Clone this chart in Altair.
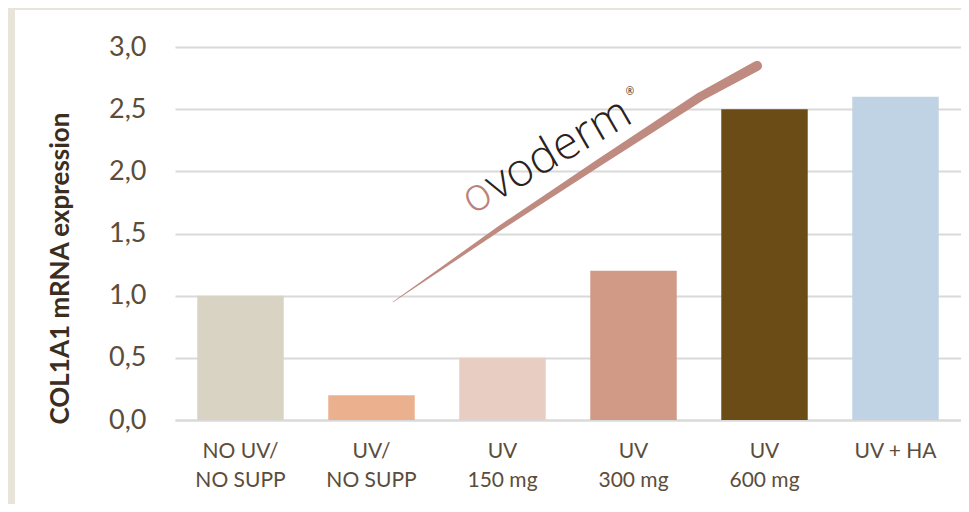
import altair as alt
import pandas as pd

categories = ["NO UV/\nNO SUPP", "UV/\nNO SUPP", "UV\n150 mg", "UV\n300 mg", "UV\n600 mg", "UV + HA"]
values = [1.0, 0.2, 0.5, 1.2, 2.5, 2.6]
bar_colors = ["#d9d3c4", "#ebb08e", "#e8cdc3", "#d19a87", "#6b4c16", "#c0d3e4"]
y_ticks = [0, 0.5, 1.0, 1.5, 2.0, 2.5, 3.0]

# decorative logo swoosh (in category-index / value units)
swoosh_x = [1.664, 2.481, 3.244, 4.008, 4.443]
swoosh_y = [0.949, 1.544, 2.075, 2.599, 2.848]
swoosh_w = [0.5, 5, 7, 9, 10]

W, H = 786, 373
LABEL = "#5b4d3c"

df = pd.DataFrame({"cat": categories, "val": values})
sw = pd.DataFrame({"sx": swoosh_x, "sy": swoosh_y, "sw": swoosh_w, "i": list(range(len(swoosh_x)))})
logo = pd.DataFrame({
    "tx": [2.305, 2.40, 3.473],
    "ty": [1.80, 1.857, 2.639],
    "t": ["o", "voderm", "®"],
})

beige = "#e8e4da"
strip_left = alt.Chart(pd.DataFrame({"a": [0]})).mark_rect(color=beige).encode(
    x=alt.value(-170), x2=alt.value(-160), y=alt.value(-40), y2=alt.value(H + 90))
strip_top = alt.Chart(pd.DataFrame({"a": [0]})).mark_rect(color=beige).encode(
    x=alt.value(-170), x2=alt.value(W + 10), y=alt.value(-40), y2=alt.value(-37))

bars = alt.Chart(df).mark_bar().encode(
    x=alt.X("cat:N", sort=categories,
            scale=alt.Scale(paddingInner=0.34, paddingOuter=0.17),
            axis=alt.Axis(title=None, labelAngle=0,
                          labelExpr="split(datum.label, '\\n')",
                          labelFont="Lato", labelFontSize=21, labelColor=LABEL,
                          labelLineHeight=29, labelPadding=20,
                          ticks=False, domain=True, domainColor="#d9d9d9", domainWidth=2)),
    y=alt.Y("val:Q", scale=alt.Scale(domain=[0, 3]),
            axis=alt.Axis(values=y_ticks, title="COL1A1 mRNA  expression",
                          labelExpr="replace(format(datum.value, '.1f'), '.', ',')",
                          labelFont="Lato", labelFontSize=27, labelColor=LABEL,
                          labelPadding=29, tickSize=0, ticks=False, domain=False,
                          gridColor="#d9d9d9", gridWidth=2,
                          titleFont="Lato", titleFontSize=26, titleFontWeight="bold",
                          titleColor="#3c2e1f", titleX=-115, titleY=221,
                          titleAlign="center", titleBaseline="middle", titleAngle=270)),
    color=alt.Color("cat:N", scale=alt.Scale(domain=categories, range=bar_colors), legend=None),
)

xs = alt.Scale(domain=[0, 6])
trail = alt.Chart(sw).mark_trail(color="#bf8a80").encode(
    x=alt.X("sx:Q", scale=xs, axis=None),
    y=alt.Y("sy:Q"),
    size=alt.Size("sw:Q", scale=None, legend=None),
    order="i:Q",
)
txt_o = alt.Chart(logo.iloc[[0]]).mark_text(
    font="Open Sans", fontSize=46, fontWeight=300, angle=330, align="center", baseline="middle",
    color="#b9837a").encode(x=alt.X("tx:Q", scale=xs, axis=None), y="ty:Q", text="t:N")
txt_main = alt.Chart(logo.iloc[[1]]).mark_text(
    font="Open Sans", fontSize=46, fontWeight=300, angle=330, align="left", baseline="middle",
    color="#2b211c").encode(x=alt.X("tx:Q", scale=xs, axis=None), y="ty:Q", text="t:N")
txt_r = alt.Chart(logo.iloc[[2]]).mark_text(
    font="Open Sans", fontSize=10, align="center", baseline="middle",
    color="#2b211c").encode(x=alt.X("tx:Q", scale=xs, axis=None), y="ty:Q", text="t:N")

deco = alt.layer(trail, txt_o, txt_main, txt_r)

chart = alt.layer(strip_left, strip_top, bars, deco).resolve_scale(x="independent").properties(
    width=W, height=H,
    autosize=alt.AutoSizeParams(type="none"),
    padding={"left": 167, "top": 39, "right": 0, "bottom": 84},
    background="white",
).configure_view(stroke=None)

chart.save("out.html", embed_options={"renderer": "svg", "actions": False})
